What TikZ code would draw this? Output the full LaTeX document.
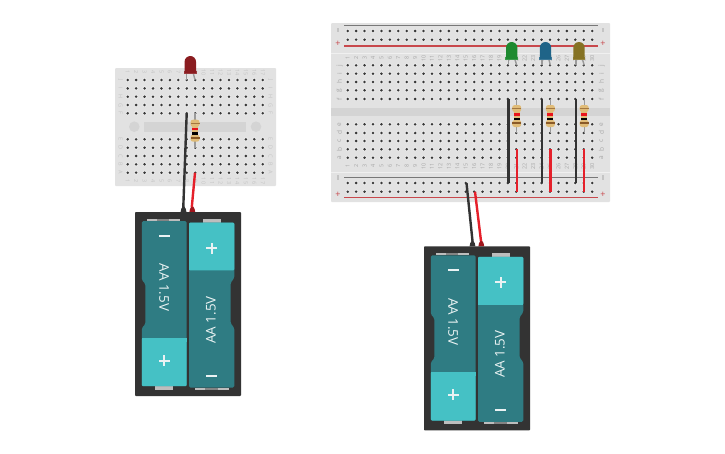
\documentclass[tikz,border=0pt]{standalone}
\usepackage{fontspec}
\setmainfont{Open Sans}
\definecolor{board}{HTML}{E2E2E2}
\definecolor{boarddark}{HTML}{D4D4D4}
\definecolor{lab}{HTML}{C4C4C4}
\definecolor{hole}{HTML}{383838}
\definecolor{halo}{HTML}{EBEBEB}
\definecolor{holder}{HTML}{333333}
\definecolor{cellD}{HTML}{2F7C83}
\definecolor{cellL}{HTML}{45C1C5}
\definecolor{tabG}{HTML}{BDBDBD}
\definecolor{wireK}{HTML}{333333}
\definecolor{wireR}{HTML}{E5202A}
\definecolor{legG}{HTML}{9A9A9A}
\definecolor{resB}{HTML}{E0BC78}
\definecolor{bandR}{HTML}{E8141C}
\definecolor{bandB}{HTML}{8A5A28}
\definecolor{railR}{HTML}{C8484C}
\definecolor{railK}{HTML}{787878}
\definecolor{ledR}{HTML}{8A1C20}
\definecolor{ledG}{HTML}{1E8A30}
\definecolor{ledB}{HTML}{1F6488}
\definecolor{ledY}{HTML}{857224}
\tikzset{
  x=1pt,y=-1pt,
  lbl/.style={text=lab,font=\fontsize{5.5}{5.5}\selectfont,inner sep=0pt},
  lbb/.style={lbl,text=lab!85!black,rotate=90},
  wK/.style={draw=wireK,line width=2.4pt},
  wR/.style={draw=wireR,line width=2.4pt},
  leg/.style={draw=legG,line width=1.4pt},
}
\newcommand{\holerow}[4]{%
  \foreach \ci in {0,...,#2}{\fill[halo] ({#1+\ci*#4},#3) circle (2.2);\fill[hole] ({#1+\ci*#4},#3) circle (1.4);}}
\newcommand{\resistor}[2]{%
  \fill[resB,rounded corners=2.5pt] ({#1-4.5},{#2}) rectangle ({#1+4.5},{#2+7});
  \fill[resB] ({#1-3},{#2+4}) rectangle ({#1+3},{#2+18});
  \fill[resB,rounded corners=2.5pt] ({#1-4.5},{#2+15}) rectangle ({#1+4.5},{#2+22});
  \fill[bandB!70!resB] ({#1-4.5},{#2+3.2}) rectangle ({#1+4.5},{#2+4.2});
  \fill[bandR] ({#1-3},{#2+8.2}) rectangle ({#1+3},{#2+10.6});
  \fill[black] ({#1-3},{#2+12.6}) rectangle ({#1+3},{#2+15});
  \fill[bandB] ({#1-4.5},{#2+17.2}) rectangle ({#1+4.5},{#2+19.4});
}
\newcommand{\ledbody}[3]{%
  \fill[#3!85!white] ({#1-6.3},{#2+14.5}) rectangle ({#1+6.3},{#2+18});
  \fill[#3] ({#1-5.7},{#2+17}) -- ({#1-5.7},{#2+5.7}) arc (180:360:5.7) -- ({#1+5.7},{#2+17}) -- cycle;
}
\newcommand{\battery}[2]{%
\begin{scope}[shift={(#1,#2)}]
  \fill[wireK] (45.6,0) -- (46.2,-3) -- (47.6,-5.5) -- (49.4,-5.5) -- (50.8,-3) -- (51.4,0) -- cycle;
  \fill[wireR!70!black] (54.4,0) -- (55,-3) -- (56.4,-5.5) -- (58.2,-5.5) -- (59.6,-3) -- (60.2,0) -- cycle;
  \fill[holder,rounded corners=0.8pt] (0,0) rectangle (106,184);
  \fill[tabG] (12,6.5) rectangle (45,9);
  \fill[tabG!70!black] (22,6.5) rectangle (34,9);
  \fill[tabG] (19.5,174) rectangle (38,178);
  \fill[tabG] (67.5,6.5) rectangle (86,11);
  \fill[tabG] (60,175.5) rectangle (93.5,178);
  \fill[tabG!70!black] (70,175.5) rectangle (83,178);
  % left cell
  \fill[cellD,rounded corners=1.5pt] (6.8,9) -- (51.7,9) -- (51.7,174.2) -- (6.8,174.2)
     -- (6.8,116) -- (10.4,112) -- (10.4,72) -- (6.8,68) -- cycle;
  \fill[cellL,rounded corners=1pt] (6.8,126) rectangle (51.7,174.2);
  \fill[cellL] (6.8,126) rectangle (51.7,130);
  \fill[white!90!cellD] (23.5,23) rectangle (34.5,25);
  \fill[white!90!cellD] (23.5,147.5) rectangle (34.5,149.5);
  \fill[white!90!cellD] (28,143) rectangle (30,154);
  \node[rotate=-90,text=white!92!cellD,font=\fontsize{13.4}{13.4}\selectfont,inner sep=0pt] (aa1) at (29,75.5) {AA 1.5V};
  % right cell
  \fill[cellD,rounded corners=1.5pt] (54,10.6) -- (99.3,10.6) -- (99.3,66) -- (95.5,71) -- (95.5,111) -- (99.3,116) -- (99.3,175.6) -- (54,175.6) -- cycle;
  \fill[cellL,rounded corners=1pt] (54,10.6) rectangle (99.3,58.3);
  \fill[cellL] (54,54) rectangle (99.3,58.3);
  \fill[white!90!cellD] (71,35) rectangle (82,37);
  \fill[white!90!cellD] (75.5,30.5) rectangle (77.5,41.5);
  \fill[white!90!cellD] (71,163) rectangle (82,165);
  \node[rotate=90,text=white!92!cellD,font=\fontsize{13.4}{13.4}\selectfont,inner sep=0pt] (aa2) at (76,108) {AA 1.5V};
\end{scope}}
\begin{document}
\begin{tikzpicture}
\useasboundingbox (0,0) rectangle (725,453);
\fill[white] (0,0) rectangle (725,453);
% ---------- small board
\fill[board,rounded corners=1pt] (115,68) rectangle (276,186);
\fill[boarddark] (144.3,121.7) rectangle (246,132.3);
\fill[boarddark] (134.3,126.7) circle (5.3);
\fill[boarddark] (256,126.7) circle (5.3);
\foreach \yy in {80,88.4,96.7,105,113.3,139.3,147.7,156,164.3,172.7}{\holerow{127.7}{16}{\yy}{8.44}}
\foreach \n in {1,...,17}{
  \node[lbl,rotate=-90] (ts\n) at ({127.7+(\n-1)*8.44},72.5) {\n};
  \node[lbl,rotate=-90] (bs\n) at ({127.7+(\n-1)*8.44},181) {\n};
}
\foreach \t/\yy in {J/80,I/88.4,H/96.7,G/105,F/113.3,E/139.3,D/147.7,C/156,B/164.3,A/172.7}{
  \node[lbl,rotate=-90] (sl\t) at (120.5,\yy) {\t};
  \node[lbl,rotate=-90] (sr\t) at (270.5,\yy) {\t};
}
% ---------- large board
\fill[board,rounded corners=1pt] (331,23) rectangle (610,202);
\fill[boarddark] (331,108) rectangle (610,115.7);
\draw[board!50!white,line width=0.4pt] (331,53) -- (610,53);
\draw[board!50!white,line width=0.4pt] (331,171.7) -- (610,171.7);
\draw[railK,line width=1.2pt] (344,25.7) -- (598,25.7);
\draw[railR,line width=1.2pt] (344,46) -- (598,46);
\draw[railK,line width=1.2pt] (344,177.7) -- (598,177.7);
\draw[railR,line width=1.2pt] (344,197.7) -- (598,197.7);
\foreach \yy in {31,39.7,65.3,73.7,82,90.3,99,124.3,133,141,149.3,157.7,183,191.7}{\holerow{347.7}{29}{\yy}{8.43}}
\foreach \n in {1,...,30}{
  \node[lbb] (tl\n) at ({347.7+(\n-1)*8.43},58) {\n};
  \node[lbb] (bl\n) at ({347.7+(\n-1)*8.43},166) {\n};
}
\foreach \t/\yy in {j/65.3,i/73.7,h/82,g/90.3,f/99,e/124.3,d/133,c/141,b/149.3,a/157.7}{
  \node[lbb,font=\fontsize{6.5}{6.5}\selectfont] (ll\t) at (339.5,\yy) {\t};
  \node[lbb,font=\fontsize{6.5}{6.5}\selectfont] (rl\t) at (601.5,\yy) {\t};
}
\foreach \xx/\s in {338/a,603/b}{
  \node[text=railR,font=\fontsize{9}{9}\selectfont,inner sep=0pt] (pt\s) at (\xx,43.5) {+};
  \node[text=railR,font=\fontsize{9}{9}\selectfont,inner sep=0pt] (pb\s) at (\xx,194.5) {+};
  \fill[lab] ({\xx-0.6},27.5) rectangle ({\xx+0.6},32);
  \fill[lab] ({\xx-0.6},175) rectangle ({\xx+0.6},180);
}
% ---------- batteries
\battery{135}{212}
\battery{424}{246.3}
% ---------- named points
\coordinate (a1) at (186.7,113.3);
\coordinate (a2) at (183.3,207);
\coordinate (b1) at (195,172.7);
\coordinate (b2) at (191.8,207);
\coordinate (c1) at (466.5,183);
\coordinate (c2) at (472.5,241);
\coordinate (d1) at (475,191.7);
\coordinate (d2) at (481,241);
% ---------- resistors and legs
\draw[leg] (195,113.3) -- (195,147.7);
\resistor{195}{119.7}
\foreach \xx in {516.7,550.4,584.2}{
  \draw[leg] (\xx,99) -- (\xx,133);
  \resistor{\xx}{105}
}
% ---------- LEDs
\draw[leg] (186.7,70) -- (186.7,80);
\draw[leg] (192.5,70) -- (195,80);
\ledbody{190.3}{56}{ledR}
\draw[leg] (508.3,56) -- (508.3,65.3);
\draw[leg] (514,56) -- (516.7,65.3);
\ledbody{511.7}{42}{ledG}
\draw[leg] (542,56) -- (542,65.3);
\draw[leg] (548,56) -- (550.4,65.3);
\ledbody{545.5}{42}{ledB}
\draw[leg] (575.8,56) -- (575.8,65.3);
\draw[leg] (581.5,56) -- (584.2,65.3);
\ledbody{579}{42}{ledY}
% ---------- wires
\draw[wK] (a1) -- (a2);
\draw[wR] (b1) -- (b2);
\draw[wK] (c1) -- (c2);
\draw[wR] (d1) -- (d2);
\foreach \xx/\i in {508.3/1,542/2,575.8/3}{
  \coordinate (kt\i) at (\xx,99);
  \coordinate (kb\i) at (\xx,183);
  \draw[wK] (kt\i) -- (kb\i);
}
\foreach \xx/\i in {516.7/1,550.4/2,584.2/3}{
  \coordinate (rt\i) at (\xx,149.3);
  \coordinate (rb\i) at (\xx,191.7);
  \draw[wR] (rt\i) -- (rb\i);
}
\end{tikzpicture}
\end{document}
